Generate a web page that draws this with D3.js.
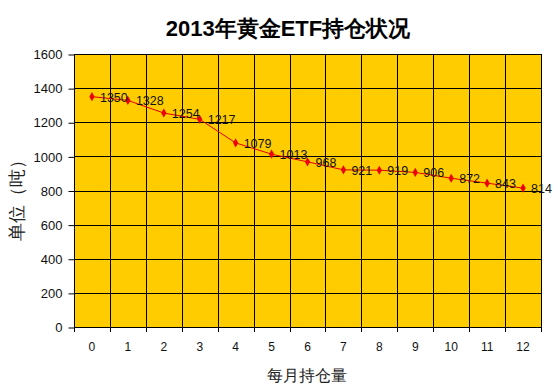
<!DOCTYPE html>
<html>
<head>
<meta charset="utf-8">
<script src="https://cdn.jsdelivr.net/npm/d3@7"></script>
<style>
body { margin: 0; background: #fff; }
text { font-family: Arial, "Liberation Sans", sans-serif; }
</style>
</head>
<body>
<div id="chart"></div>
<script>
let months = ["0", "1", "2", "3", "4", "5", "6", "7", "8", "9", "10", "11", "12"];
let holdings = [1350, 1328, 1254, 1217, 1079, 1013, 968, 921, 919, 906, 872, 843, 814];
let yTicks = [0, 200, 400, 600, 800, 1000, 1200, 1400, 1600];

let w = 556, h = 388;
let plotLeft = 74, plotRight = 541, plotTop = 54, plotBottom = 327;

let svg = d3.select("#chart").append("svg")
    .attr("width", w)
    .attr("height", h);

let xScale = d3.scaleBand()
    .domain(months)
    .range([plotLeft, plotRight]);
let yScale = d3.scaleLinear()
    .domain([0, 1600])
    .range([plotBottom, plotTop]);

// plot background
svg.append("rect")
    .attr("x", plotLeft).attr("y", plotTop)
    .attr("width", plotRight - plotLeft).attr("height", plotBottom - plotTop)
    .attr("fill", "#ffcc00");

// horizontal grid
svg.append("g")
    .selectAll("line")
    .data(yTicks)
    .enter()
    .append("line")
    .attr("x1", plotLeft).attr("x2", plotRight)
    .attr("y1", (d) => Math.round(yScale(d)) + 0.5)
    .attr("y2", (d) => Math.round(yScale(d)) + 0.5)
    .attr("stroke", "#000").attr("stroke-width", 1);

// vertical grid at band edges
let edges = months.map((m) => xScale(m)).concat([plotRight]);
svg.append("g")
    .selectAll("line")
    .data(edges)
    .enter()
    .append("line")
    .attr("x1", (d) => Math.round(d) + 0.5).attr("x2", (d) => Math.round(d) + 0.5)
    .attr("y1", plotTop).attr("y2", plotBottom + 5)
    .attr("stroke", "#000").attr("stroke-width", 1);

// y axis
svg.append("g")
    .attr("transform", "translate(" + (plotLeft + 0.5) + ",0.5)")
    .call(d3.axisLeft(yScale).tickValues(yTicks).tickSize(6).tickPadding(6).tickFormat(d3.format("d")))
    .call((g) => g.select(".domain").remove())
    .call((g) => g.selectAll("text").attr("font-size", 13).attr("fill", "#111").attr("font-family", "Arial"));

// x labels
svg.append("g")
    .selectAll("text")
    .data(months)
    .enter()
    .append("text")
    .attr("x", (m) => xScale(m) + xScale.bandwidth() / 2)
    .attr("y", 351)
    .attr("text-anchor", "middle")
    .attr("font-size", 12)
    .attr("fill", "#111")
    .text((m) => m);

// line
let line = d3.line()
    .x((d, i) => xScale(months[i]) + xScale.bandwidth() / 2)
    .y((d) => yScale(d));
svg.append("path")
    .datum(holdings)
    .attr("d", line)
    .attr("fill", "none")
    .attr("stroke", "#e00000")
    .attr("stroke-width", 1);

svg.append("g")
    .selectAll("path")
    .data(holdings)
    .enter()
    .append("path")
    .attr("d", d3.symbol(d3.symbolDiamond, 24))
    .attr("transform", (d, i) => "translate(" + (xScale(months[i]) + xScale.bandwidth() / 2) + "," + yScale(d) + ")")
    .attr("fill", "#ee0000");

// value labels
svg.append("g")
    .selectAll("text")
    .data(holdings)
    .enter()
    .append("text")
    .attr("x", (d, i) => xScale(months[i]) + xScale.bandwidth() / 2 + 8)
    .attr("y", (d) => yScale(d) + 5)
    .attr("font-size", 12.5)
    .attr("fill", "#111")
    .text((d) => d);

// title
svg.append("text")
    .attr("x", 288).attr("y", 36)
    .attr("text-anchor", "middle")
    .attr("font-size", 22)
    .attr("font-weight", "bold")
    .attr("font-family", "Arial, 'Noto Sans CJK SC', sans-serif")
    .attr("fill", "#000")
    .text("2013年黄金ETF持仓状况");

// axis titles
svg.append("text")
    .attr("transform", "translate(23,196) rotate(-90)")
    .attr("text-anchor", "middle")
    .attr("font-size", 18)
    .attr("font-family", "'Noto Sans CJK SC', sans-serif")
    .attr("fill", "#222")
    .text("单位（吨）");

svg.append("text")
    .attr("x", 307).attr("y", 381)
    .attr("text-anchor", "middle")
    .attr("font-size", 16)
    .attr("font-family", "'Noto Sans CJK SC', sans-serif")
    .attr("fill", "#222")
    .text("每月持仓量");
</script>
</body>
</html>
